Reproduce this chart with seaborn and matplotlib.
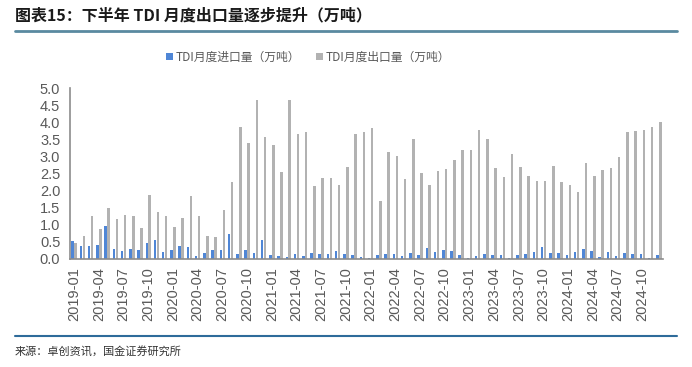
import matplotlib
matplotlib.use("Agg")
import matplotlib.pyplot as plt
from matplotlib.lines import Line2D
import numpy as np
import pandas as pd
import seaborn as sns

months = [f"{y}-{m:02d}" for y in range(2019, 2025) for m in range(1, 13)]

imports = [0.53, 0.39, 0.37, 0.41, 0.97, 0.30, 0.22, 0.28, 0.26, 0.48, 0.56, 0.21,
           0.25, 0.37, 0.34, 0.09, 0.18, 0.26, 0.25, 0.74, 0.16, 0.26, 0.18, 0.57,
           0.12, 0.09, 0.07, 0.14, 0.09, 0.18, 0.16, 0.16, 0.22, 0.14, 0.11, 0.05,
           0.02, 0.12, 0.14, 0.14, 0.09, 0.18, 0.12, 0.33, 0.20, 0.26, 0.22, 0.11,
           0.02, 0.09, 0.14, 0.11, 0.13, 0.02, 0.13, 0.15, 0.21, 0.34, 0.18, 0.18,
           0.11, 0.20, 0.29, 0.24, 0.05, 0.21, 0.09, 0.18, 0.14, 0.14, 0.02, 0.11]

exports = [0.48, 0.67, 1.26, 0.89, 1.49, 1.17, 1.28, 1.26, 0.91, 1.86, 1.37, 1.26,
           0.94, 1.19, 1.83, 1.26, 0.66, 0.64, 1.42, 2.25, 3.85, 3.38, 4.65, 3.56,
           3.32, 2.55, 4.65, 3.66, 3.71, 2.12, 2.38, 2.36, 2.16, 2.69, 3.66, 3.71,
           3.83, 1.70, 3.12, 3.00, 2.33, 3.52, 2.51, 2.16, 2.57, 2.64, 2.90, 3.18,
           3.20, 3.78, 3.50, 2.66, 2.40, 3.06, 2.70, 2.44, 2.29, 2.27, 2.72, 2.25,
           2.17, 1.96, 2.81, 2.42, 2.61, 2.66, 2.97, 3.70, 3.73, 3.77, 3.85, 4.01]

series_names = ["TDI月度进口量（万吨）", "TDI月度出口量（万吨）"]
colors = ["#4F86D6", "#B2B2B2"]

df = pd.DataFrame({
    "month": months * 2,
    "value": imports + exports,
    "series": [series_names[0]] * len(months) + [series_names[1]] * len(months),
})

sns.set_style("white")
plt.rcParams["font.family"] = ["Liberation Sans", "Noto Sans CJK SC", "DejaVu Sans"]

fig = plt.figure(figsize=(6.92, 3.67), dpi=100)
ax = fig.add_axes([70 / 692, 1 - 259 / 367, 593 / 692, 171 / 367])

sns.barplot(data=df, x="month", y="value", hue="series", palette=colors,
            width=0.72, gap=0.15, linewidth=0, edgecolor="none",
            saturation=1, ax=ax, legend=True)

ax.set_xlim(-0.5, len(months) - 0.5)
ax.set_ylim(0, 5.0)
ax.set_yticks(np.arange(0, 5.01, 0.5))
ax.set_yticklabels([f"{v:.1f}" for v in np.arange(0, 5.01, 0.5)])
ax.set_xlabel("")
ax.set_ylabel("")

# labels every 3 months, tick marks on the category boundaries
lab_pos = list(range(0, len(months), 3))
ax.set_xticks(lab_pos)
ax.set_xticklabels([months[i] for i in lab_pos], rotation=90)
ax.set_xticks(np.arange(-0.5, len(months), 3), minor=True)
ax.tick_params(axis="x", which="major", length=0, pad=6, labelsize=10.5, labelcolor="#595959")
ax.tick_params(axis="x", which="minor", length=4, width=1, color="#8C8C8C", direction="out")
ax.tick_params(axis="y", length=4, width=1, color="#8C8C8C", direction="out",
               labelsize=10.5, labelcolor="#595959", pad=3)

for s in ["top", "right"]:
    ax.spines[s].set_visible(False)
for s in ["left", "bottom"]:
    ax.spines[s].set_color("#8C8C8C")
    ax.spines[s].set_linewidth(1.2)

cjk = ["Noto Sans CJK SC", "DejaVu Sans"]
leg = ax.legend(loc="center", bbox_to_anchor=(308 / 692, 1 - 57 / 367),
                bbox_transform=fig.transFigure, ncol=2, frameon=False,
                handlelength=0.6, handleheight=0.6, handletextpad=0.2,
                columnspacing=1.4, prop={"family": cjk, "size": 8.5})
for t in leg.get_texts():
    t.set_color("#595959")

fig.text(15 / 692, 1 - 15 / 367, "图表15：下半年 TDI 月度出口量逐步提升（万吨）",
         family=cjk, fontsize=11.5, fontweight="bold", style="italic",
         color="#1A1A1A", ha="left", va="center")
fig.text(15 / 692, 1 - 352 / 367, "来源：卓创资讯，国金证券研究所",
         family=cjk, fontsize=8, color="#333333", ha="left", va="center")

fig.add_artist(Line2D([15 / 692, 677 / 692], [1 - 31 / 367] * 2,
                      color="#5A8AA0", linewidth=2))
fig.add_artist(Line2D([15 / 692, 677 / 692], [1 - 336 / 367] * 2,
                      color="#2E6B9A", linewidth=1.5))

fig.savefig("out.png", dpi=100)
